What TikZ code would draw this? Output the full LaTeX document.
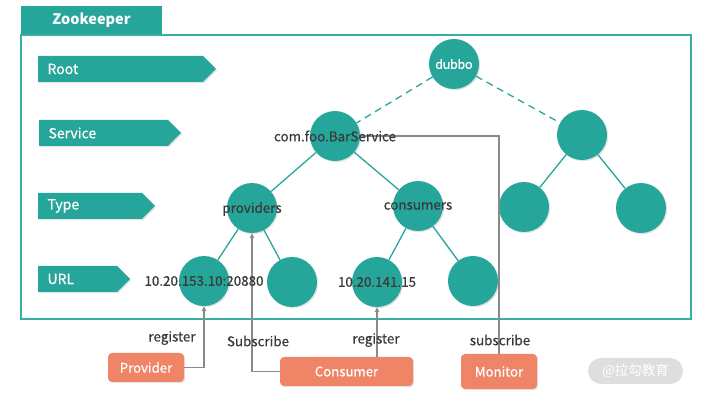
\documentclass[tikz,border=0pt]{standalone}
\usepackage{fontspec}
\setmainfont{Noto Sans CJK SC}
\newfontfamily\medfont[FakeBold=0.45]{Noto Sans CJK SC}
\newfontfamily\latofont[FakeBold=0.5]{Lato}
\usetikzlibrary{arrows.meta,shadows}
\definecolor{tealA}{HTML}{26A69A}
\definecolor{tealL}{HTML}{3AAEA4}
\definecolor{salmon}{HTML}{F08466}
\definecolor{conngray}{HTML}{8A8A8A}
\definecolor{txtgray}{HTML}{3A3A3A}
\tikzset{
  shd/.style={drop shadow={shadow xshift=1.2pt,shadow yshift=-1.2pt,opacity=0.22}},
  circ/.style={circle,fill=tealA,minimum size=50pt,inner sep=0pt,shd},
  tedge/.style={draw=tealA,line width=1.3pt},
  dedge/.style={tedge,dash pattern=on 7pt off 5pt},
  lbltext/.style={text=white,anchor=west,font=\medfont\fontsize{14}{16}\selectfont},
  graytext/.style={text=txtgray,inner sep=0pt,font=\medfont\fontsize{13.4}{16}\selectfont},
  actor/.style={fill=salmon,rounded corners=4pt,text=white,inner sep=0pt,shd,font=\medfont\fontsize{13.2}{16}\selectfont},
  conn/.style={draw=conngray,line width=1.5pt},
  arr/.style={conn,-{Triangle[length=5pt,width=4.5pt]}},
  banner/.style={fill=tealA,shd}
}
\begin{document}
\begin{tikzpicture}[x=1pt,y=-1pt]
\useasboundingbox (0,0) rectangle (713,406);
% tab and frame
\fill[tealA] (21,6) rectangle (162,35);
\node[text=white,font=\bfseries\fontsize{14.5}{17}\selectfont] (zk) at (91.5,20) {Zookeeper};
\draw[tealL,line width=1.6pt] (21,35) rectangle (691,319);
% level banners
\fill[banner] (38,56) -- (203,56) -- (216,69) -- (203,82) -- (38,82) -- cycle;
\node[lbltext] (lroot) at (44,69) {Root};
\fill[banner] (39,120) -- (168,120) -- (181,133) -- (168,146) -- (39,146) -- cycle;
\node[lbltext] (lserv) at (45,133) {Service};
\fill[banner] (38,193) -- (142,193) -- (155,206) -- (142,219) -- (38,219) -- cycle;
\node[lbltext] (ltype) at (44,206) {Type};
\fill[banner] (38,266) -- (117,266) -- (130,279) -- (117,292) -- (38,292) -- cycle;
\node[lbltext] (lurl) at (44,279) {URL};
% tree nodes
\node[circ,text=white,font=\latofont\fontsize{13.2}{16}\selectfont] (d) at (454,64) {dubbo};
\node[circ] (s1) at (335,136) {};
\node[circ] (s2) at (582,135) {};
\node[circ] (p) at (252,208) {};
\node[circ] (c) at (418,206) {};
\node[circ] (t3) at (524,207) {};
\node[circ] (t4) at (641,208) {};
\node[circ] (u1) at (204,281) {};
\node[circ] (u2) at (292,282) {};
\node[circ] (u3) at (377,282) {};
\node[circ] (u4) at (473,281) {};
% tree edges
\draw[dedge] (d) -- (s1);
\draw[dedge] (d) -- (s2);
\draw[tedge] (s1) -- (p);
\draw[tedge] (s1) -- (c);
\draw[tedge] (s2) -- (t3);
\draw[tedge] (s2) -- (t4);
\draw[tedge] (p) -- (u1);
\draw[tedge] (p) -- (u2);
\draw[tedge] (c) -- (u3);
\draw[tedge] (c) -- (u4);
% actors
\node[actor,minimum width=76pt,minimum height=29pt] (prov) at (146,367.5) {Provider};
\node[actor,minimum width=133pt,minimum height=29pt] (cons) at (346.5,371.5) {Consumer};
\node[actor,minimum width=76pt,minimum height=35pt] (mon) at (499,371.5) {Monitor};
% connectors
\draw[arr] (prov.east) -| (u1.south);
\draw[arr] (cons.west) -| (p.south);
\draw[arr] (u3.south |- cons.north) -- (u3.south);
\draw[conn] (mon.north) |- (s1.east);
% texts over circles
\node[graytext] (ts1) at (335,136) {com.foo.BarService};
\node[graytext] (tp) at (252,209) {providers};
\node[graytext] (tc) at (418,206) {consumers};
\node[graytext] (tu1) at (204,281) {10.20.153.10:20880};
\node[graytext] (tu3) at (377,282) {10.20.141.15};
% connector labels
\node[graytext] (r1) at (172,338) {register};
\node[graytext] (sb1) at (258,341) {Subscribe};
\node[graytext] (r2) at (376,340) {register};
\node[graytext] (sb2) at (500,340) {subscribe};
% watermark
\node[fill=black!13,rounded corners=13pt,minimum width=95pt,minimum height=26pt,inner sep=0pt,text=white,font=\fontsize{13.5}{15}\selectfont] (wm) at (635.5,371) {@拉勾教育};
\end{tikzpicture}
\end{document}
